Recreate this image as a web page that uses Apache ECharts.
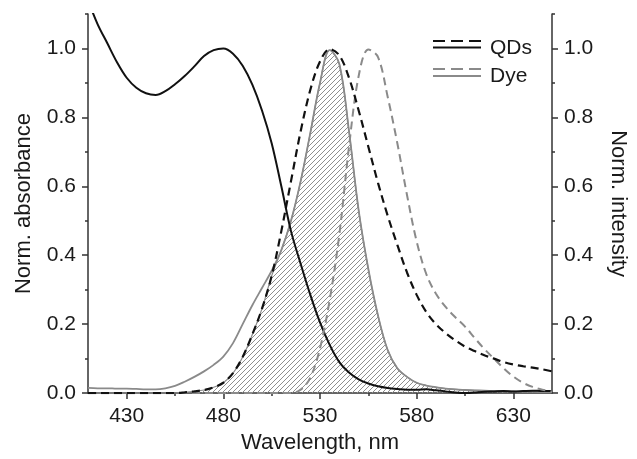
<!DOCTYPE html>
<html>
<head>
<meta charset="utf-8">
<script src="https://cdn.jsdelivr.net/npm/echarts@6/dist/echarts.min.js"></script>
<style>
  html, body { margin: 0; padding: 0; background: #fff; }
  #main { width: 637px; height: 459px; }
</style>
</head>
<body>
<div id="main"></div>
<script>
// wavelength grid, nm
const wavelength = [410, 415, 420, 425, 430, 435, 440, 445, 450, 455, 460, 465, 470, 475, 480, 485,
  490, 495, 500, 505, 510, 515, 520, 525, 530, 535, 540, 545, 550, 555, 560, 565, 570, 575, 580,
  585, 590, 595, 600, 605, 610, 615, 620, 625, 630, 635, 640, 645, 650];

// QDs absorbance (solid black)
const qdAbs = [1.14, 1.07, 1.015, 0.96, 0.915, 0.886, 0.87, 0.865, 0.876, 0.896, 0.92, 0.948, 0.978,
  0.995, 1.0, 0.985, 0.95, 0.895, 0.82, 0.725, 0.6, 0.47, 0.375, 0.285, 0.205, 0.14, 0.09, 0.06, 0.04,
  0.028, 0.02, 0.015, 0.012, 0.01, 0.01, 0.011, 0.008, 0.005, 0.002, 0.0, 0.002, 0.004, 0.005, 0.006,
  0.005, 0.006, 0.007, 0.006, 0.006];

// Dye absorbance (solid grey)
const dyeAbs = [0.015, 0.014, 0.014, 0.013, 0.013, 0.012, 0.011, 0.011, 0.014, 0.021, 0.033, 0.047,
  0.063, 0.082, 0.106, 0.145, 0.2, 0.255, 0.305, 0.355, 0.415, 0.5, 0.615, 0.755, 0.9, 0.995, 0.955,
  0.76, 0.53, 0.36, 0.225, 0.125, 0.072, 0.047, 0.03, 0.022, 0.017, 0.013, 0.011, 0.009, 0.008,
  0.007, 0.006, 0.005, 0.005, 0.004, 0.004, 0.003, 0.003];

// QDs emission (dashed black)
const qdEm = [0, 0, 0, 0, 0, 0, 0, 0, 0, 0, 0.002, 0.005, 0.009, 0.017, 0.03, 0.058, 0.105, 0.17, 0.245,
  0.34, 0.47, 0.615, 0.76, 0.88, 0.962, 0.998, 0.98, 0.915, 0.82, 0.715, 0.61, 0.515, 0.43, 0.35, 0.285,
  0.235, 0.2, 0.174, 0.153, 0.135, 0.122, 0.11, 0.1, 0.09, 0.083, 0.078, 0.074, 0.069, 0.063];

// Dye emission (dashed grey)
const dyeEm = [0, 0, 0, 0, 0, 0, 0, 0, 0, 0, 0, 0, 0, 0, 0, 0, 0, 0, 0, 0, 0, 0, 0.01, 0.045, 0.13,
  0.27, 0.46, 0.715, 0.92, 0.997, 0.975, 0.86, 0.725, 0.575, 0.44, 0.345, 0.288, 0.25, 0.22, 0.193,
  0.16, 0.128, 0.1, 0.072, 0.048, 0.03, 0.018, 0.01, 0.005];

const xMajor = [430, 480, 530, 580, 630];
const xMinor = [455, 505, 555, 605];
const yMajor = [0, 0.2, 0.4, 0.6, 0.8, 1.0];
const yMinor = [0.1, 0.3, 0.5, 0.7, 0.9, 1.1];

const pairs = arr => wavelength.map((w, i) => [w, arr[i]]);
// spectral overlap: the lower of QD emission and dye absorbance
const overlap = wavelength.map((w, i) => [w, Math.min(qdEm[i], dyeAbs[i])]);

// hatch pattern for the overlap area
const hatch = document.createElement('canvas');
hatch.width = 5; hatch.height = 5;
const hctx = hatch.getContext('2d');
hctx.strokeStyle = '#8e8e8e';
hctx.lineWidth = 1;
hctx.beginPath();
hctx.moveTo(-1, 6); hctx.lineTo(6, -1);
hctx.moveTo(-1, 1); hctx.lineTo(1, -1);
hctx.moveTo(4, 6); hctx.lineTo(6, 4);
hctx.stroke();

const FONT = 'Liberation Sans, Arial, sans-serif';
const AX = '#333';
const BLACK = '#111';
const GREY = '#8a8a8a';

const axisBase = {
  axisLine: { show: true, lineStyle: { color: AX, width: 1.5 } },
  splitLine: { show: false }
};

const chart = echarts.init(document.getElementById('main'));

const option = {
  animation: false,
  backgroundColor: '#fff',
  grid: { left: 88, top: 14, width: 476, height: 381 },
  xAxis: [
    Object.assign({}, axisBase, {
      type: 'value', position: 'bottom', min: 410, max: 650,
      name: 'Wavelength, nm', nameLocation: 'middle', nameGap: 38,
      nameTextStyle: { fontFamily: FONT, fontSize: 22, color: '#1a1a1a' },
      axisTick: { show: true, customValues: xMajor, length: 6, lineStyle: { color: AX, width: 1.5 } },
      axisLabel: { customValues: xMajor, margin: 13, fontFamily: FONT, fontSize: 21, color: '#1a1a1a' }
    }),
    {
      type: 'value', position: 'bottom', min: 410, max: 650,
      axisLine: { show: false }, splitLine: { show: false }, axisLabel: { show: false },
      axisTick: { show: true, customValues: xMinor, length: 3, lineStyle: { color: AX, width: 1.5 } }
    }
  ],
  yAxis: [
    Object.assign({}, axisBase, {
      type: 'value', position: 'left', min: 0, max: 1.1,
      name: 'Norm. absorbance', nameLocation: 'middle', nameGap: 53, nameRotate: 90,
      nameTextStyle: { fontFamily: FONT, fontSize: 22, color: '#1a1a1a' },
      axisTick: { show: true, customValues: yMajor, length: 6, lineStyle: { color: AX, width: 1.5 } },
      axisLabel: { customValues: yMajor, margin: 12, fontFamily: FONT, fontSize: 21, color: '#1a1a1a',
        formatter: v => v.toFixed(1) }
    }),
    Object.assign({}, axisBase, {
      type: 'value', position: 'right', min: 0, max: 1.1,
      name: 'Norm. intensity', nameLocation: 'middle', nameGap: 55, nameRotate: -90,
      nameTextStyle: { fontFamily: FONT, fontSize: 22, color: '#1a1a1a' },
      axisTick: { show: true, customValues: yMajor, length: 6, lineStyle: { color: AX, width: 1.5 } },
      axisLabel: { customValues: yMajor, margin: 12, fontFamily: FONT, fontSize: 21, color: '#1a1a1a',
        formatter: v => v.toFixed(1) }
    }),
    {
      type: 'value', position: 'left', min: 0, max: 1.1,
      axisLine: { show: false }, splitLine: { show: false }, axisLabel: { show: false },
      axisTick: { show: true, customValues: yMinor, length: 3, lineStyle: { color: AX, width: 1.5 } }
    },
    {
      type: 'value', position: 'right', min: 0, max: 1.1,
      axisLine: { show: false }, splitLine: { show: false }, axisLabel: { show: false },
      axisTick: { show: true, customValues: yMinor, length: 3, lineStyle: { color: AX, width: 1.5 } }
    }
  ],
  series: [
    {
      name: 'Overlap', type: 'line', data: overlap, smooth: 0.35, showSymbol: false, z: 1,
      lineStyle: { color: GREY, width: 1.2 },
      areaStyle: { color: { image: hatch, repeat: 'repeat' }, opacity: 1 }
    },
    {
      name: 'Dye abs', type: 'line', data: pairs(dyeAbs), smooth: 0.35, showSymbol: false, z: 2,
      lineStyle: { color: GREY, width: 1.8 }
    },
    {
      name: 'QDs abs', type: 'line', data: pairs(qdAbs), smooth: 0.35, showSymbol: false, z: 3,
      lineStyle: { color: BLACK, width: 2 }
    },
    {
      name: 'Dye em', type: 'line', yAxisIndex: 1, data: pairs(dyeEm), smooth: 0.35, showSymbol: false, z: 3,
      lineStyle: { color: GREY, width: 2, type: [8, 5] }
    },
    {
      name: 'QDs em', type: 'line', yAxisIndex: 1, data: pairs(qdEm), smooth: 0.35, showSymbol: false, z: 4,
      lineStyle: { color: BLACK, width: 2.2, type: [8, 5] }
    }
  ],
  graphic: [
    { type: 'line', shape: { x1: 433, y1: 41, x2: 481, y2: 41 }, style: { stroke: BLACK, lineWidth: 2, lineDash: [12, 6] } },
    { type: 'line', shape: { x1: 433, y1: 47.5, x2: 481, y2: 47.5 }, style: { stroke: BLACK, lineWidth: 2 } },
    { type: 'text', left: 490, top: 38, style: { text: 'QDs', font: '21px ' + FONT, fill: '#1a1a1a' } },
    { type: 'line', shape: { x1: 433, y1: 69, x2: 481, y2: 69 }, style: { stroke: GREY, lineWidth: 2, lineDash: [12, 6] } },
    { type: 'line', shape: { x1: 433, y1: 76, x2: 481, y2: 76 }, style: { stroke: GREY, lineWidth: 2 } },
    { type: 'text', left: 490, top: 66, style: { text: 'Dye', font: '21px ' + FONT, fill: '#1a1a1a' } }
  ]
};

chart.setOption(option);
</script>
</body>
</html>
